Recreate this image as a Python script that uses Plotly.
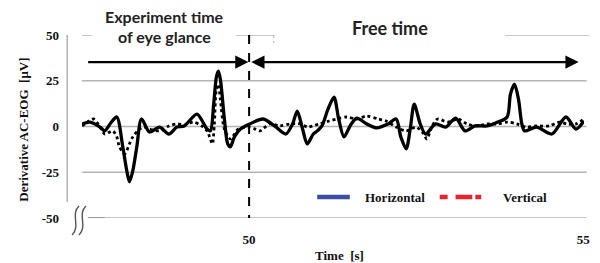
import plotly.graph_objects as go

# Horizontal (solid) derivative AC-EOG
t_h = [47.50, 47.62, 47.77, 47.84, 47.93, 48.02, 48.11, 48.17, 48.21, 48.26, 48.32, 48.39,
       48.51, 48.66, 48.80, 48.92, 49.03, 49.22, 49.37, 49.42, 49.47, 49.51, 49.54, 49.57,
       49.63, 49.68, 49.72, 49.78, 49.87, 50.01, 50.21, 50.38, 50.55, 50.65, 50.72, 50.80,
       50.87, 50.96, 51.02, 51.09, 51.18, 51.27, 51.34, 51.42, 51.51, 51.61, 51.76, 51.91,
       52.08, 52.20, 52.27, 52.35, 52.41, 52.47, 52.56, 52.64, 52.79, 52.94, 53.09, 53.23,
       53.38, 53.56, 53.72, 53.86, 53.91, 53.97, 54.03, 54.08, 54.12, 54.30, 54.53, 54.74,
       54.89, 55.01]
v_h = [1.4, 2.4, -0.3, -2.4, 1.9, 5.2, -11.1, -24.2, -30.2, -24.2, -11.1, 4.1,
       -3.0, -0.3, -4.1, -0.3, 0.3, 6.8, -1.4, -2.4, 12.2, 26.9, 30.2, 25.8,
       4.1, -9.5, -11.1, -5.7, -1.4, 1.4, 4.1, 0.3, -4.1, 1.4, 8.4, -1.4,
       -9.5, -4.1, -2.4, 0.3, 9.5, 16.0, 4.1, -5.7, 0.3, 4.6, 1.4, -0.8,
       1.4, 4.1, -5.7, -12.2, -1.4, 12.2, 1.4, -4.1, 1.4, -0.3, 4.6, -2.4,
       0.3, 0.3, 2.4, 5.2, 17.7, 23.1, 14.9, 1.4, -2.4, -0.3, -4.1, 5.2,
       -1.4, 3.0]

# Vertical (dotted) derivative AC-EOG
t_v = [47.50, 47.56, 47.67, 47.77, 47.84, 47.96, 48.02, 48.06, 48.14, 48.21, 48.26, 48.36,
       48.43, 48.51, 48.66, 48.80, 48.92, 49.03, 49.17, 49.29, 49.37, 49.41, 49.45, 49.48,
       49.51, 49.54, 49.57, 49.63, 49.72, 49.84, 49.99, 50.09, 50.16, 50.31, 50.46, 50.61,
       50.77, 50.87, 50.95, 51.05, 51.20, 51.31, 51.46, 51.61, 51.76, 51.93, 52.05, 52.20,
       52.35, 52.50, 52.60, 52.66, 52.73, 52.82, 52.97, 53.13, 53.26, 53.41, 53.56, 53.71,
       53.87, 54.00, 54.15, 54.30, 54.49, 54.64, 54.76, 54.89, 55.01]
v_v = [0.3, 1.9, 4.1, -0.3, -4.1, -2.4, -5.7, -11.1, -14.9, -9.5, -5.7, -1.4,
       -0.3, -1.4, -2.4, 0.3, 1.4, 0.8, 2.4, 0.3, -2.4, -5.7, -9.5, 1.4,
       20.4, 23.1, 14.9, -1.4, -6.8, -1.4, -0.3, -1.4, -2.4, 1.4, 0.3, 1.4,
       1.4, -0.3, 0.3, 1.4, 3.0, 4.1, 5.2, 4.1, 5.7, 4.1, 3.0, -0.3,
       -2.4, -0.3, -3.5, -6.8, -0.3, 4.1, 2.4, 4.1, 1.4, 0.3, 1.4, 1.4,
       2.4, 1.4, -0.3, 0.3, 0.3, 2.4, 1.4, 1.4, 4.1]

y_ticks = [-50, -25, 0, 25, 50]
x_ticks = [50, 55]
grid_full = [25, 0, -25]
split_time = 50
arrow_y = 35.2

SERIF = "Liberation Serif"
SANS = "Lato"

fig = go.Figure()
fig.add_trace(go.Scatter(x=t_v, y=v_v, mode="lines", name="Vertical", showlegend=False,
                         line=dict(color="black", width=2.8, dash="dot", shape="spline", smoothing=0.8)))
fig.add_trace(go.Scatter(x=t_h, y=v_h, mode="lines", name="Horizontal", showlegend=False,
                         line=dict(color="black", width=3.3, shape="spline", smoothing=0.8)))

def px2x(px):
    return (px - 82) / 508.0

def py2y(py):
    return (218 - py) / 183.0

shapes = []
GRID = "#b4b4b4"
for g in grid_full:
    shapes.append(dict(type="line", xref="paper", yref="y", x0=0, x1=1.005, y0=g, y1=g,
                       line=dict(color=GRID, width=1.6), layer="below"))
# -50 gridline
shapes.append(dict(type="line", xref="paper", yref="y", x0=px2x(88), x1=1.005, y0=-50, y1=-50,
                   line=dict(color=GRID, width=1.6), layer="below"))
shapes.append(dict(type="line", xref="paper", yref="y", x0=px2x(88), x1=px2x(105), y0=-50, y1=-50,
                   line=dict(color="#888888", width=1.6), layer="below"))
# 50 gridline fragments (interrupted by text boxes)
for a, b in [(82, 92), (238, 277), (510, 595)]:
    shapes.append(dict(type="line", xref="paper", yref="y", x0=px2x(a), x1=px2x(b), y0=50, y1=50,
                       line=dict(color=GRID, width=1.6), layer="below"))
shapes.append(dict(type="line", xref="paper", yref="paper", x0=px2x(276), x1=px2x(276), y0=py2y(35), y1=py2y(43),
                   line=dict(color=GRID, width=1, dash="dot"), layer="below"))
# y-axis line
shapes.append(dict(type="line", xref="paper", yref="paper", x0=px2x(67), x1=px2x(67), y0=py2y(35), y1=py2y(202),
                   line=dict(color="#a0a0a0", width=1.2)))
# axis break symbol
for dx in (0, 7):
    path = "M {:.4f},{:.4f} C {:.4f},{:.4f} {:.4f},{:.4f} {:.4f},{:.4f}".format(
        px2x(79 + dx), py2y(206), px2x(70 + dx), py2y(214), px2x(81 + dx), py2y(226), px2x(72 + dx), py2y(235))
    shapes.append(dict(type="path", xref="paper", yref="paper", path=path,
                       line=dict(color="#555555", width=1.4)))
# dashed split line
shapes.append(dict(type="line", xref="x", yref="y", x0=split_time, x1=split_time, y0=50, y1=-50,
                   line=dict(color="black", width=2, dash="dash")))
# legend symbols
shapes.append(dict(type="line", xref="paper", yref="paper", x0=px2x(320), x1=px2x(353), y0=py2y(197), y1=py2y(197),
                   line=dict(color="#3a4ea6", width=4.5)))
for a, b in [(444, 452), (460, 477), (480, 486)]:
    shapes.append(dict(type="line", xref="paper", yref="paper", x0=px2x(a), x1=px2x(b), y0=py2y(197), y1=py2y(197),
                       line=dict(color="#e8232b", width=4.5)))

ann = []
# arrows
ann.append(dict(x=49.99, y=arrow_y, ax=47.57, ay=arrow_y, xref="x", yref="y", axref="x", ayref="y",
                showarrow=True, arrowhead=2, arrowsize=1.1, arrowwidth=2.4, arrowcolor="black", text=""))
ann.append(dict(x=54.93, y=arrow_y, ax=50.01, ay=arrow_y, xref="x", yref="y", axref="x", ayref="y",
                showarrow=True, arrowhead=2, startarrowhead=2, arrowside="end+start", arrowsize=1.1,
                startarrowsize=1.1, arrowwidth=2.4, arrowcolor="black", text=""))
# titles
sans_font = dict(family=SANS, size=16, color="#222222", weight="bold")
ann.append(dict(x=px2x(165), y=py2y(17), xref="paper", yref="paper", text="Experiment time",
                showarrow=False, font=sans_font, xanchor="center", yanchor="middle"))
ann.append(dict(x=px2x(165), y=py2y(36), xref="paper", yref="paper", text="of eye glance",
                showarrow=False, font=sans_font, xanchor="center", yanchor="middle"))
ann.append(dict(x=px2x(394), y=py2y(28), xref="paper", yref="paper", text="Free time",
                showarrow=False, font=dict(family=SANS, size=18, color="#222222", weight="bold"),
                xanchor="center", yanchor="middle"))
serif_font = dict(family=SERIF, size=13, color="#111111", weight="bold")
ann.append(dict(x=px2x(22), y=py2y(130), xref="paper", yref="paper", text="Derivative AC-EOG  [μV]",
                textangle=-90, showarrow=False, font=serif_font, xanchor="center", yanchor="middle"))
ann.append(dict(x=px2x(343), y=py2y(255), xref="paper", yref="paper", text="Time  [s]",
                showarrow=False, font=serif_font, xanchor="center", yanchor="middle"))
ann.append(dict(x=px2x(366), y=py2y(197), xref="paper", yref="paper", text="Horizontal",
                showarrow=False, font=serif_font, xanchor="left", yanchor="middle"))
ann.append(dict(x=px2x(506), y=py2y(197), xref="paper", yref="paper", text="Vertical",
                showarrow=False, font=serif_font, xanchor="left", yanchor="middle"))

fig.update_layout(
    width=600, height=263,
    margin=dict(l=82, r=10, t=35, b=45),
    paper_bgcolor="white", plot_bgcolor="white",
    showlegend=False,
    shapes=shapes, annotations=ann,
    xaxis=dict(range=[47.50, 55.01], tickvals=x_ticks, ticktext=[str(v) for v in x_ticks],
               showgrid=False, zeroline=False, showline=False, ticks="",
               tickfont=dict(family=SERIF, size=13, color="#111111", weight="bold"),
               ticklabelstandoff=12),
    yaxis=dict(range=[-50, 50], tickvals=y_ticks, ticktext=[str(v) for v in y_ticks],
               showgrid=False, zeroline=False, showline=False, ticks="",
               tickfont=dict(family=SERIF, size=13, color="#111111", weight="bold"),
               ticklabelstandoff=22),
)

fig.write_html("out.html", config={"displayModeBar": False},
               post_script="document.body.style.margin='0';document.body.style.overflow='hidden';")
